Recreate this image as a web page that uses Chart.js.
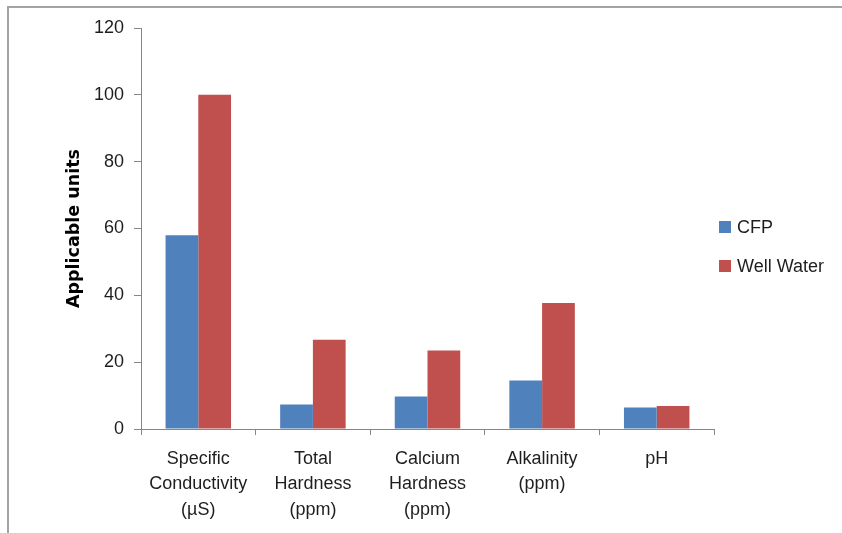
<!DOCTYPE html>
<html>
<head>
<meta charset="utf-8">
<script src="https://cdn.jsdelivr.net/npm/chart.js@4"></script>
<style>
  html, body { margin: 0; padding: 0; background: #ffffff; }
  #wrap { width: 842px; height: 533px; }
</style>
</head>
<body>
<div id="wrap"><canvas id="chart" width="842" height="533"></canvas></div>
<script>
// Water quality parameters, CFP vs. well water
const categories = [
  ['Specific', 'Conductivity', '(µS)'],
  ['Total', 'Hardness', '(ppm)'],
  ['Calcium', 'Hardness', '(ppm)'],
  ['Alkalinity', '(ppm)'],
  ['pH']
];
const cfpValues = [58, 7.3, 9.7, 14.5, 6.4];
const wellWaterValues = [100, 26.7, 23.5, 37.7, 6.9];
const seriesNames = ['CFP', 'Well Water'];
const seriesColors = ['#4F81BD', '#C0504D'];
const yTicks = [0, 20, 40, 60, 80, 100, 120];

const FONT = "'Liberation Sans', Arial, sans-serif";
const TEXT = '#1e1e1e';
const AXIS = '#868686';

// Outer frame of the chart object
const framePlugin = {
  id: 'frame',
  beforeDraw(chart) {
    const ctx = chart.ctx;
    ctx.save();
    ctx.strokeStyle = '#a3a3a3';
    ctx.lineWidth = 2;
    ctx.beginPath();
    ctx.moveTo(8, chart.height + 2);
    ctx.lineTo(8, 7);
    ctx.lineTo(chart.width + 2, 7);
    ctx.stroke();
    ctx.restore();
  }
};

// Legend to the right of the plot, stacked vertically
const sideLegend = {
  id: 'sideLegend',
  afterDraw(chart) {
    const ctx = chart.ctx;
    const area = chart.chartArea;
    const x = area.right + 5;
    const rows = [227, 266];
    ctx.save();
    ctx.font = '18px ' + FONT;
    ctx.textBaseline = 'middle';
    ctx.textAlign = 'left';
    chart.data.datasets.forEach((ds, i) => {
      const y = rows[i];
      ctx.fillStyle = ds.backgroundColor;
      ctx.fillRect(x, y - 6, 12, 12);
      ctx.fillStyle = TEXT;
      ctx.fillText(ds.label, x + 18, y + 1);
    });
    ctx.restore();
  }
};

new Chart(document.getElementById('chart'), {
  type: 'bar',
  data: {
    labels: categories,
    datasets: [
      { label: seriesNames[0], data: cfpValues, backgroundColor: seriesColors[0] },
      { label: seriesNames[1], data: wellWaterValues, backgroundColor: seriesColors[1] }
    ]
  },
  options: {
    responsive: false,
    animation: false,
    devicePixelRatio: 1,
    layout: { padding: { left: 64, top: 28, right: 128, bottom: 0 } },
    datasets: { bar: { categoryPercentage: 2 / 3.5, barPercentage: 1, borderWidth: 0 } },
    plugins: { legend: { display: false }, tooltip: { enabled: false } },
    scales: {
      x: {
        grid: { display: true, drawOnChartArea: false, offset: true, color: AXIS, tickLength: 6 },
        border: { color: AXIS, width: 1 },
        ticks: { color: TEXT, font: { family: FONT, size: 18, lineHeight: 1.42 }, padding: 11, maxRotation: 0, autoSkip: false },
        afterFit(scale) { scale.height = 104; }
      },
      y: {
        min: 0, max: 120,
        afterBuildTicks(scale) { scale.ticks = yTicks.map(v => ({ value: v })); },
        grid: { display: true, drawOnChartArea: false, color: AXIS, tickLength: 7 },
        border: { color: AXIS, width: 1 },
        ticks: { color: TEXT, font: { family: FONT, size: 18 }, padding: 10 },
        title: {
          display: true, text: 'Applicable units', color: '#000000',
          font: { family: "'DejaVu Sans', Verdana, sans-serif", size: 17.5, weight: 'bold', lineHeight: 1.2 },
          padding: { top: 0, bottom: 0 }
        },
        afterFit(scale) { scale.width = 141 - 64; }
      }
    }
  },
  plugins: [framePlugin, sideLegend]
});
</script>
</body>
</html>
